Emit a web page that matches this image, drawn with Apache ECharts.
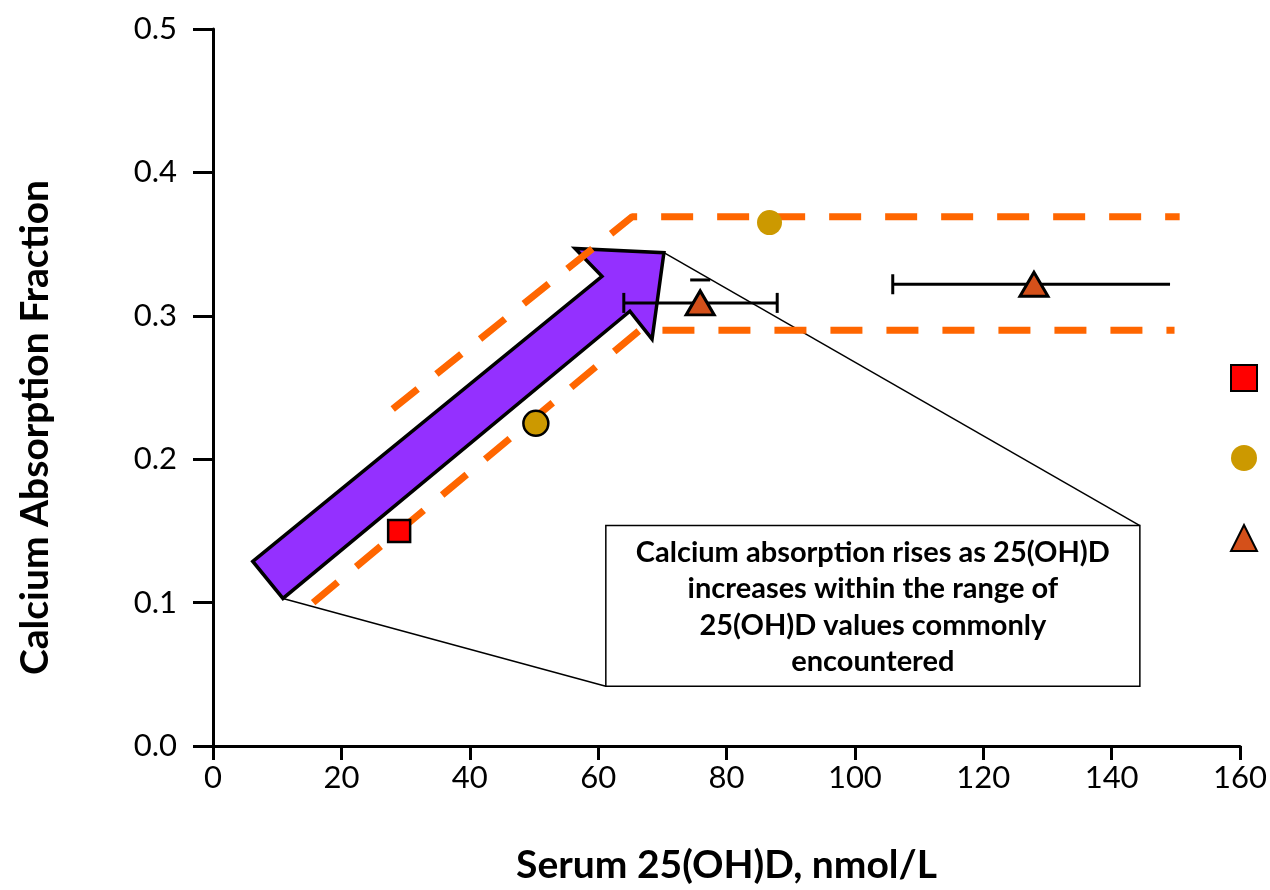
<!DOCTYPE html>
<html>
<head>
<meta charset="utf-8">
<title>Calcium absorption vs serum 25(OH)D</title>
<script src="https://cdn.jsdelivr.net/npm/echarts@6/dist/echarts.min.js"></script>
<style>
  html, body { margin: 0; padding: 0; background: #fff; }
  #main { width: 1270px; height: 890px; }
</style>
</head>
<body>
<div id="main"></div>
<script>
// data points
var squareX = [29.0]
var squareY = [0.150]
var circleX = [50.3, 86.7]
var circleY = [0.225, 0.365]
var triX = [75.9, 127.9]
var triY = [0.309, 0.322]
// horizontal error bars on the triangles
var triErrLow = [64.0, 105.9]
var triErrHigh = [87.9, 149.1]
var triErrYHigh = [0.325, null]
var capLow = [1, 1]
var capHigh = [1, 0]

// dashed orange band
var upperBandX = [28.0, 65.3, 150.6]
var upperBandY = [0.235, 0.369, 0.369]
var lowerBandX = [15.6, 66.5, 149.8]
var lowerBandY = [0.100, 0.290, 0.290]

// purple arrow outline (data coordinates)
var arrowX = [6.2, 60.6, 56.4, 70.25, 68.4, 64.95, 10.9]
var arrowY = [0.1287, 0.3275, 0.347, 0.344, 0.2837, 0.3032, 0.1029]

// note box + callout lines
var boxX = [61.2, 144.4]
var boxY = [0.0417, 0.1537]
var noteLines = [
  'Calcium absorption rises as 25(OH)D',
  'increases within the range of',
  '25(OH)D values commonly',
  'encountered'
]
var calloutFrom = [[10.9, 0.1029], [70.25, 0.344]]
var calloutTo = [[61.2, 0.0417], [144.4, 0.1537]]

var FONT = 'Lato, "Open Sans", sans-serif'
var chart = echarts.init(document.getElementById('main'))

function pairs(xs, ys) {
  return xs.map(function (x, i) { return [x, ys[i]] })
}

var errData = triX.map(function (x, i) {
  return [x, triY[i], triErrLow[i], triErrHigh[i],
    triErrYHigh[i] == null ? NaN : triErrYHigh[i], capLow[i], capHigh[i]]
})

var dashStyle = { color: '#FF6600', width: 7, type: [32, 24] }

chart.setOption({
  animation: false,
  grid: { left: 213, right: 30, top: 29, bottom: 142 },
  legend: {
    orient: 'vertical',
    left: 1225,
    top: 359,
    itemWidth: 26,
    itemHeight: 26,
    itemGap: 53,
    data: ['Square', 'Circle', 'Triangle'],
    formatter: function () { return '' },
    selectedMode: false
  },
  xAxis: {
    type: 'value',
    min: 0,
    max: 160,
    interval: 20,
    name: 'Serum 25(OH)D, nmol/L',
    nameLocation: 'middle',
    nameGap: 100,
    nameTextStyle: { fontFamily: FONT, fontWeight: 'bold', fontSize: 39, color: '#000' },
    splitLine: { show: false },
    axisLine: { lineStyle: { color: '#000', width: 3 } },
    axisTick: { inside: false, length: 14, lineStyle: { color: '#000', width: 3 } },
    axisLabel: { margin: 16, fontFamily: FONT, fontSize: 31, color: '#000' }
  },
  yAxis: {
    type: 'value',
    min: 0,
    max: 0.5,
    interval: 0.1,
    name: 'Calcium Absorption Fraction',
    nameLocation: 'middle',
    nameGap: 158,
    nameTextStyle: {
      fontFamily: FONT, fontWeight: 'bold', fontSize: 39, color: '#000',
      padding: [0, 80, 0, 0]
    },
    splitLine: { show: false },
    axisLine: { lineStyle: { color: '#000', width: 3 } },
    axisTick: { length: 20, lineStyle: { color: '#000', width: 3 } },
    axisLabel: {
      margin: 36, fontFamily: FONT, fontSize: 31, color: '#000',
      formatter: function (v) { return v.toFixed(1) }
    }
  },
  series: [
    {
      // arrow
      type: 'custom',
      z: 1,
      silent: true,
      clip: false,
      data: [[arrowX[0], arrowY[0]]],
      renderItem: function (params, api) {
        var pts = arrowX.map(function (x, i) { return api.coord([x, arrowY[i]]) })
        return {
          type: 'polygon',
          shape: { points: pts },
          style: { fill: '#9430FF', stroke: '#000', lineWidth: 3.5, lineJoin: 'miter' }
        }
      }
    },
    {
      // callout lines + note box
      type: 'custom',
      z: 2,
      silent: true,
      clip: false,
      data: [[boxX[0], boxY[0]]],
      renderItem: function (params, api) {
        var children = calloutFrom.map(function (p, i) {
          var a = api.coord(p)
          var b = api.coord(calloutTo[i])
          return {
            type: 'line',
            shape: { x1: a[0], y1: a[1], x2: b[0], y2: b[1] },
            style: { stroke: '#000', lineWidth: 1.5 }
          }
        })
        var tl = api.coord([boxX[0], boxY[1]])
        var br = api.coord([boxX[1], boxY[0]])
        children.push({
          type: 'rect',
          z2: 5,
          shape: { x: tl[0], y: tl[1], width: br[0] - tl[0], height: br[1] - tl[1] },
          style: { fill: '#fff', stroke: '#000', lineWidth: 1.5 }
        })
        children.push({
          type: 'text',
          z2: 6,
          x: (tl[0] + br[0]) / 2,
          y: (tl[1] + br[1]) / 2 + 1,
          style: {
            text: noteLines.join('\n'),
            align: 'center',
            verticalAlign: 'middle',
            fontFamily: FONT,
            fontWeight: 'bold',
            fontSize: 29,
            lineHeight: 36.5,
            fill: '#000'
          }
        })
        return { type: 'group', children: children }
      }
    },
    {
      type: 'line',
      z: 3,
      silent: true,
      symbol: 'none',
      lineStyle: dashStyle,
      data: pairs(upperBandX, upperBandY)
    },
    {
      type: 'line',
      z: 3,
      silent: true,
      symbol: 'none',
      lineStyle: dashStyle,
      data: pairs(lowerBandX, lowerBandY)
    },
    {
      // error bars
      type: 'custom',
      z: 4,
      silent: true,
      data: errData,
      renderItem: function (params, api) {
        var y = api.value(1)
        var lo = api.coord([api.value(2), y])
        var hi = api.coord([api.value(3), y])
        var cap = 10
        var st = { stroke: '#000', lineWidth: 3 }
        var ch = [{ type: 'line', shape: { x1: lo[0], y1: lo[1], x2: hi[0], y2: hi[1] }, style: st }]
        if (api.value(5)) ch.push({ type: 'line', shape: { x1: lo[0], y1: lo[1] - cap, x2: lo[0], y2: lo[1] + cap }, style: st })
        if (api.value(6)) ch.push({ type: 'line', shape: { x1: hi[0], y1: hi[1] - cap, x2: hi[0], y2: hi[1] + cap }, style: st })
        var yh = api.value(4)
        if (!isNaN(yh)) {
          var t = api.coord([api.value(0), yh])
          ch.push({ type: 'line', shape: { x1: t[0] - cap, y1: t[1], x2: t[0] + cap, y2: t[1] }, style: st })
        }
        return { type: 'group', children: ch }
      }
    },
    {
      name: 'Square',
      type: 'scatter',
      z: 5,
      symbol: 'rect',
      symbolSize: 22,
      itemStyle: { color: '#FF0000', borderColor: '#000', borderWidth: 2.5, opacity: 1 },
      data: pairs(squareX, squareY)
    },
    {
      name: 'Circle',
      type: 'scatter',
      z: 5,
      symbol: 'circle',
      symbolSize: 25,
      itemStyle: { color: '#CC9900', opacity: 1 },
      data: pairs(circleX, circleY).map(function (p, i) {
        return i === 0
          ? { value: p, itemStyle: { borderColor: '#000', borderWidth: 2.5 } }
          : { value: p }
      })
    },
    {
      name: 'Triangle',
      type: 'scatter',
      z: 5,
      symbol: 'triangle',
      symbolSize: [28, 24],
      itemStyle: { color: '#D4501A', borderColor: '#000', borderWidth: 3, opacity: 1 },
      data: pairs(triX, triY)
    }
  ]
})
</script>
</body>
</html>
